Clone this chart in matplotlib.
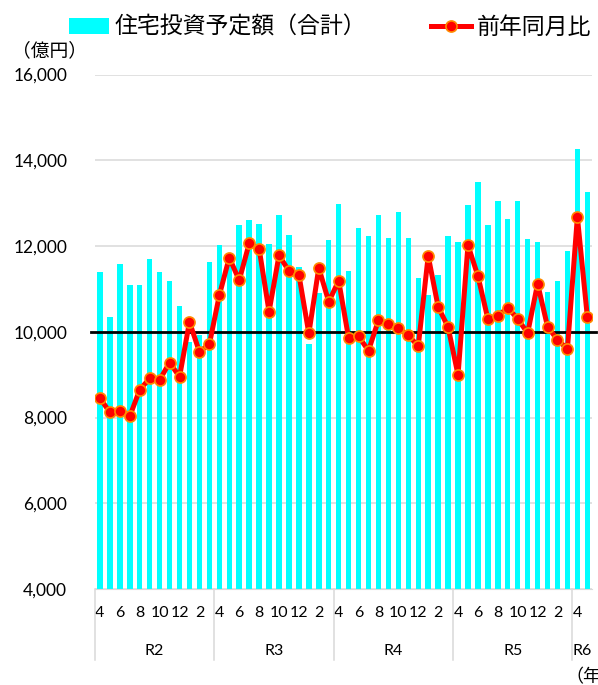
import numpy as np
import matplotlib
matplotlib.use('Agg')
from matplotlib import pyplot as plt
from matplotlib.patches import Patch
from matplotlib.lines import Line2D
from matplotlib.ticker import FuncFormatter

plt.rcParams['font.family'] = ['Lato', 'Noto Sans CJK JP', 'DejaVu Sans']

# 住宅投資予定額（合計） 億円, R2.4 - R6.5
amount = [11400, 10350, 11580, 11100, 11090, 11700, 11390, 11190, 10590, 9750, 9930, 11620,
          12030, 11700, 12500, 12605, 12504, 12047, 12729, 12248, 11519, 9721, 10907, 12147,
          12977, 11419, 12411, 12225, 12713, 12186, 12791, 12186, 11256, 10868, 11326, 12225,
          12101, 12961, 13488, 12481, 13047, 12636, 13039, 12155, 12093, 10938, 11178, 11884,
          14256, 13264]
# 前年同月比 (%)
yoy = [84.5, 81.2, 81.6, 80.3, 86.5, 89.1, 88.8, 92.8, 89.5, 102.3, 95.3, 97.1,
       108.5, 117.3, 112.0, 120.6, 119.4, 104.7, 117.8, 114.2, 113.3, 99.6, 114.9, 107.0,
       111.9, 98.5, 98.9, 95.6, 102.7, 101.7, 100.8, 99.2, 96.6, 117.7, 105.8, 101.1,
       89.9, 120.2, 113.0, 103.0, 103.7, 105.6, 103.0, 99.7, 111.2, 101.2, 98.1, 96.0,
       126.8, 103.5]
months = [4, 5, 6, 7, 8, 9, 10, 11, 12, 1, 2, 3] * 4 + [4, 5]
years = ['R2', 'R3', 'R4', 'R5', 'R6']
year_len = [12, 12, 12, 12, 2]

x = np.arange(len(amount))

fig = plt.figure(figsize=(5.98, 6.85), dpi=100)
ax = fig.add_axes([95/598, 1-589/685, (592.3-95)/598, (589-74.5)/685])

ax.bar(x, amount, width=0.55, color='#00FFFF', zorder=2)
ax.set_xlim(-0.5, len(x)-0.5)
ax.set_ylim(4000, 16000)
ax.set_yticks(range(4000, 16001, 2000))
ax.yaxis.set_major_formatter(FuncFormatter(lambda v, p: f'{v:,.0f}'))
ax.grid(axis='y', color='#D9D9D9', lw=1.1)
ax.set_axisbelow(True)
for s in ['top', 'left', 'right']:
    ax.spines[s].set_visible(False)
ax.spines['bottom'].set_color('#D9D9D9')
ax.tick_params(axis='y', length=0, pad=20, labelsize=12.5)
ax.set_xticks(x[::2])
ax.set_xticklabels([str(m) for m in months[::2]])
ax.tick_params(axis='x', length=0, pad=12, labelsize=11.5)

# 100% line
ax.plot([-0.009, 1.007], [10000, 10000], transform=ax.get_yaxis_transform(),
        color='black', lw=2, clip_on=False, zorder=3)

# year groups
start = 0
xt = ax.get_xaxis_transform()
for name, n in zip(years, year_len):
    ax.text(start + (n-1)/2, -0.12, name, transform=xt, ha='center', va='center', fontsize=11.5)
    ax.plot([start-0.5, start-0.5], [0, -0.138], transform=xt, color='#D9D9D9', lw=1.1, clip_on=False)
    start += n

ax2 = ax.twinx()
ax2.set_ylim(40, 160)
ax2.plot(x, yoy, color='red', lw=3.6, marker='o', ms=8, mfc='red', mec='#FF8C00', mew=1.2)
ax2.set_axis_off()

handles = [Patch(facecolor='#00FFFF'),
           Line2D([], [], color='red', lw=3.6, marker='o', ms=8, mfc='red', mec='#FF8C00', mew=1.2)]
fig.legend(handles, ['住宅投資予定額（合計）', '前年同月比'], loc='upper left',
           bbox_to_anchor=(69/598, 1-16/685), ncol=2, frameon=False, fontsize=16.5,
           handlelength=1.75, handletextpad=0.25, columnspacing=2.8, borderpad=0,
           borderaxespad=0, numpoints=1)

fig.text(12/598, 1-50/685, '（億円）', fontsize=13.5, va='center')
fig.text(565/598, 1-677/685, '（年）', fontsize=13, va='center')

fig.savefig('out.png', dpi=100)
